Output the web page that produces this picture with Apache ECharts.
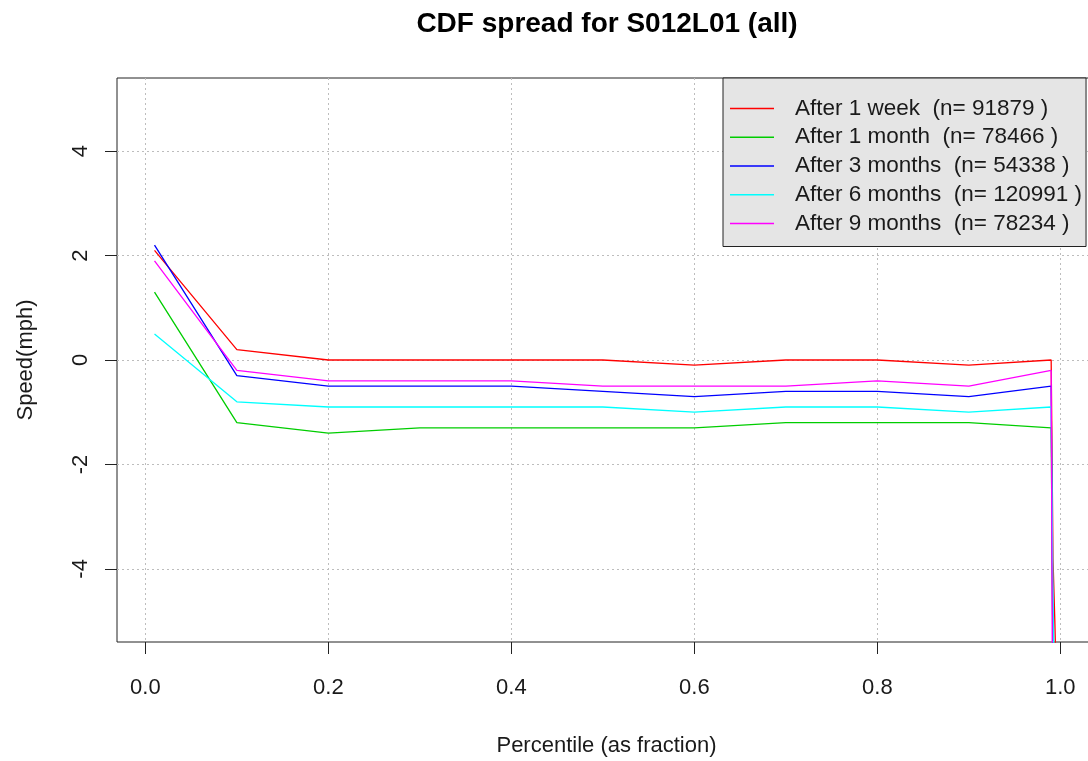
<!DOCTYPE html>
<html>
<head>
<meta charset="utf-8">
<script src="https://cdn.jsdelivr.net/npm/echarts@6/dist/echarts.min.js"></script>
<style>
  html, body { margin: 0; padding: 0; background: #ffffff; }
  #chart { width: 1088px; height: 761px; }
</style>
</head>
<body>
<div id="chart"></div>
<script>
// percentile positions (x) shared by every series
let percentiles = [0.01, 0.1, 0.2, 0.3, 0.4, 0.5, 0.6, 0.7, 0.8, 0.9, 0.99, 0.992, 0.994, 0.996, 0.998, 1.0];

// speed difference (mph) per period
let week1 = [2.1, 0.2, 0, 0, 0, 0, -0.1, 0, 0, -0.1, 0, -3.8, -5.0, -6.5, -8, -12];
let month1 = [1.3, -1.2, -1.4, -1.3, -1.3, -1.3, -1.3, -1.2, -1.2, -1.2, -1.3, -6, -8, -10, -12, -15];
let months3 = [2.2, -0.3, -0.5, -0.5, -0.5, -0.6, -0.7, -0.6, -0.6, -0.7, -0.5, -6, -9, -11, -13, -16];
let months6 = [0.5, -0.8, -0.9, -0.9, -0.9, -0.9, -1.0, -0.9, -0.9, -1.0, -0.9, -4.5, -7, -9, -11, -14];
let months9 = [1.9, -0.2, -0.4, -0.4, -0.4, -0.5, -0.5, -0.5, -0.4, -0.5, -0.2, -9, -11, -13, -15, -18];

let seriesNames = [
  "After 1 week  (n= 91879 )",
  "After 1 month  (n= 78466 )",
  "After 3 months  (n= 54338 )",
  "After 6 months  (n= 120991 )",
  "After 9 months  (n= 78234 )",
];
let seriesColors = ["#ff0000", "#00cd00", "#0000ff", "#00ffff", "#ff00ff"];
let seriesValues = [week1, month1, months3, months6, months9];

let xTicks = [0, 0.2, 0.4, 0.6, 0.8, 1.0];
let yTicks = [-4, -2, 0, 2, 4];

let fontFamily = "'Liberation Sans', Arial, sans-serif";

let myChart = echarts.init(document.getElementById("chart"));

let seriesList = seriesValues.map((vals, i) => {
  return {
    name: seriesNames[i],
    type: "line",
    symbol: "none",
    clip: true,
    color: seriesColors[i],
    lineStyle: { width: 1.3, color: seriesColors[i] },
    data: vals.map((v, j) => [percentiles[j], v]),
  };
});

let gridLine = { color: "#bdbdbd", type: [2, 3], width: 1 };

let option = {
  animation: false,
  backgroundColor: "#ffffff",
  title: {
    text: "CDF spread for S012L01 (all)",
    left: 607,
    top: 10,
    padding: 0,
    textAlign: "center",
    textStyle: {
      fontFamily: fontFamily,
      fontSize: 28,
      fontWeight: "bold",
      color: "#000000",
    },
  },
  legend: {
    orient: "vertical",
    left: 723,
    top: 78,
    padding: [19, 4, 11.5, 7],
    itemGap: 5.75,
    itemWidth: 44,
    itemHeight: 1.5,
    icon: "rect",
    backgroundColor: "#e5e5e5",
    borderColor: "#222222",
    borderWidth: 1,
    borderRadius: 0,
    textStyle: {
      fontFamily: fontFamily,
      fontSize: 22.5,
      lineHeight: 22,
      color: "#1a1a1a",
      padding: [0, 0, 0, 16],
    },
    data: seriesNames,
  },
  grid: {
    show: true,
    left: 117,
    top: 78,
    width: 979,
    height: 564,
    borderColor: "#222222",
    borderWidth: 1,
    containLabel: false,
    outerBoundsMode: "none",
  },
  xAxis: {
    type: "value",
    min: -0.031,
    max: 1.039,
    name: "Percentile (as fraction)",
    nameLocation: "middle",
    nameGap: 93,
    nameTextStyle: { fontFamily: fontFamily, fontSize: 22, color: "#1a1a1a" },
    axisLine: { show: false, onZero: false },
    axisTick: {
      show: true,
      length: 12,
      customValues: xTicks,
      lineStyle: { color: "#222222", width: 1 },
    },
    axisLabel: {
      customValues: xTicks,
      margin: 35,
      fontFamily: fontFamily,
      fontSize: 22,
      color: "#1a1a1a",
      formatter: (v) => v.toFixed(1),
    },
    splitLine: { show: true, lineStyle: gridLine },
  },
  yAxis: {
    type: "value",
    min: -5.4,
    max: 5.4,
    name: "Speed(mph)",
    nameLocation: "middle",
    nameRotate: 90,
    nameGap: 80,
    nameTextStyle: { fontFamily: fontFamily, fontSize: 22, color: "#1a1a1a" },
    axisLine: { show: false, onZero: false },
    axisTick: {
      show: true,
      length: 12,
      customValues: yTicks,
      lineStyle: { color: "#222222", width: 1 },
    },
    axisLabel: {
      customValues: yTicks,
      rotate: 90,
      margin: 25,
      fontFamily: fontFamily,
      fontSize: 22,
      color: "#1a1a1a",
    },
    splitLine: { show: true, lineStyle: gridLine },
  },
  series: seriesList,
};
myChart.setOption(option);
</script>
</body>
</html>
